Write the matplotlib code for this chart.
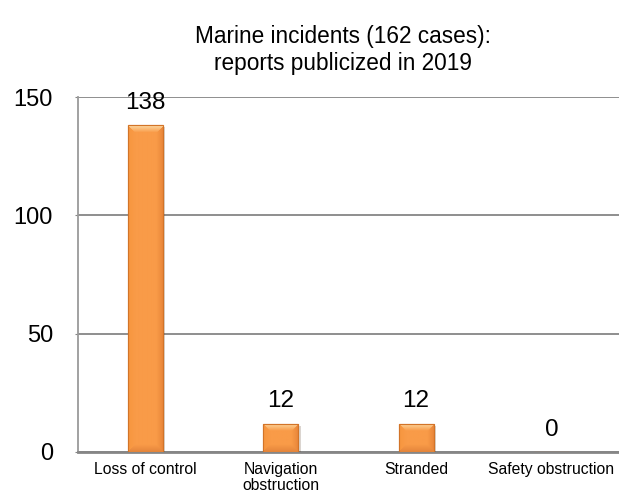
import numpy as np
import matplotlib.pyplot as plt
import matplotlib.colors as mcolors
import matplotlib.patheffects as pe

categories = ["Loss of control", "Navigation\nobstruction", "Stranded", "Safety obstruction"]
counts = [138, 12, 12, 0]
yticks = [0, 50, 100, 150]
title = "Marine incidents (162 cases):\nreports publicized in 2019"

plt.rcParams['font.family'] = ['Liberation Sans', 'DejaVu Sans']

base = np.array(mcolors.to_rgb("#F99B48"))
edge_shades = {
    "top": np.array(mcolors.to_rgb("#FDD7A0")),
    "left": np.array(mcolors.to_rgb("#F7963F")),
    "right": np.array(mcolors.to_rgb("#E8853A")),
    "bottom": np.array(mcolors.to_rgb("#E5863C")),
}


def bevel_image(w, h, b=7):
    # small bevel like the office chart preset
    img = np.tile(base, (h, w, 1))
    for r in range(h):
        for c in range(w):
            d = {"top": r, "bottom": h - 1 - r, "left": c, "right": w - 1 - c}
            side = min(d, key=d.get)
            m = d[side]
            if m < b:
                t = 1 - m / b
                img[r, c] = base * (1 - t) + edge_shades[side] * t
    return img


fig = plt.figure(figsize=(6.19, 4.95), dpi=100)
ax = fig.add_axes([78 / 619, 43 / 495, 541 / 619, 355 / 495])

x = range(len(categories))
bars = ax.bar(x, counts, width=0.26, color="#F99B48", edgecolor="#D27428",
              linewidth=0.8, zorder=3)
for b in bars:
    b.set_path_effects([pe.SimplePatchShadow(offset=(1.5, -1.5), alpha=0.2), pe.Normal()])

# label above each bar
for xi, v in zip(x, counts):
    ax.annotate(str(v), (xi, v), xytext=(0, 8), textcoords="offset points",
                ha="center", va="bottom", fontsize=17.5)

ax.set_xlim(-0.5, len(categories) - 0.5)
ax.set_ylim(0, 150)
ax.set_yticks(yticks)
ax.set_xticks(list(x))
ax.set_xticklabels(categories, fontsize=11.3, linespacing=1.1)
ax.tick_params(axis="y", labelsize=17, length=2, color="#868686", pad=16)
ax.tick_params(axis="x", length=0, pad=7)

ax.yaxis.grid(True, color="#868686", linewidth=1.3, zorder=0)
ax.set_axisbelow(True)
for s in ["top", "right"]:
    ax.spines[s].set_visible(False)
ax.spines["left"].set_color("#9a9a9a")
ax.spines["left"].set_linewidth(1.3)
ax.spines["bottom"].set_color("#868686")
ax.spines["bottom"].set_linewidth(2)

# bevel shading on top of each bar
fig.canvas.draw()
for b in bars:
    if b.get_height() <= 0:
        continue
    bb = b.get_window_extent()
    w, h = max(int(round(bb.width)), 2), max(int(round(bb.height)), 2)
    im = ax.imshow(bevel_image(w, h), extent=(b.get_x(), b.get_x() + b.get_width(), 0, b.get_height()),
                   aspect="auto", interpolation="bilinear", zorder=3.5)
    im.set_clip_path(b)
    ax.bar(b.get_x() + b.get_width() / 2, b.get_height(), width=b.get_width(),
           fill=False, edgecolor="#D27428", linewidth=0.8, zorder=4)
ax.set_xlim(-0.5, len(categories) - 0.5)
ax.set_ylim(0, 150)

fig.text(343 / 619, 1 - 50 / 495, title, ha="center", va="center",
         fontsize=16.3, linespacing=1.2)

fig.savefig("out.png", dpi=100)
